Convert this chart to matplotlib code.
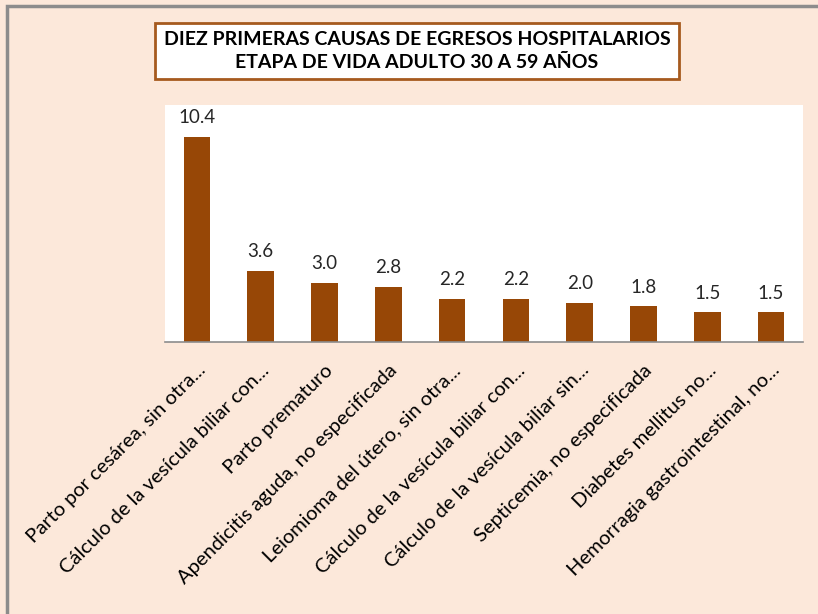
import matplotlib.pyplot as plt

causas = [
    'Parto por cesárea, sin otra...',
    'Cálculo de la vesícula biliar con...',
    'Parto prematuro',
    'Apendicitis aguda, no especificada',
    'Leiomioma del útero, sin otra...',
    'Cálculo de la vesícula biliar con...',
    'Cálculo de la vesícula biliar sin...',
    'Septicemia, no especificada',
    'Diabetes mellitus no...',
    'Hemorragia gastrointestinal, no...',
]
porcentajes = [10.4, 3.6, 3.0, 2.8, 2.2, 2.2, 2.0, 1.8, 1.5, 1.5]

plt.rcParams['font.family'] = ['Lato', 'DejaVu Sans']

fig = plt.figure(figsize=(8.18, 6.14), dpi=100)
fig.patch.set_facecolor('#fce8da')

# fondo con el borde gris del marco (izquierda y arriba), en pixeles
bg = fig.add_axes([0, 0, 1, 1], zorder=-1)
bg.set_xlim(0, 818)
bg.set_ylim(614, 0)
bg.axis('off')
bg.plot([7, 7, 830], [630, 6, 6], color='#8c8c8c', linewidth=2.5, solid_joinstyle='miter')

ax = fig.add_axes([165 / 818, 1 - 342 / 614, 638 / 818, 237 / 614])
ax.set_facecolor('white')

x = range(len(causas))
bars = ax.bar(x, porcentajes, width=0.42, color='#974706')
for b, v in zip(bars, porcentajes):
    ax.text(b.get_x() + b.get_width() / 2, v + 0.55, f'{v:.1f}',
            ha='center', va='bottom', fontsize=13.5, color='#262626')

ax.set_ylim(0, 12)
ax.set_xlim(-0.5, len(causas) - 0.5)
ax.set_yticks([])
ax.set_xticks(list(x))
ax.set_xticklabels(causas, rotation=45, ha='right', rotation_mode='anchor',
                   fontsize=14.5, color='black')
ax.tick_params(axis='x', length=0, pad=14)
for s in ['top', 'left', 'right']:
    ax.spines[s].set_visible(False)
ax.spines['bottom'].set_color('#8c8c8c')
ax.spines['bottom'].set_linewidth(1.2)

# titulo en recuadro
fig.text(417 / 818, 1 - 51 / 614,
         'DIEZ PRIMERAS CAUSAS DE EGRESOS HOSPITALARIOS\nETAPA DE VIDA ADULTO 30 A 59 AÑOS',
         ha='center', va='center', fontsize=14, fontweight='bold', linespacing=1.45,
         bbox=dict(boxstyle='square,pad=0.42', facecolor='white', edgecolor='#a65a1e', linewidth=2))

fig.savefig('out.png', dpi=100, facecolor=fig.get_facecolor())
